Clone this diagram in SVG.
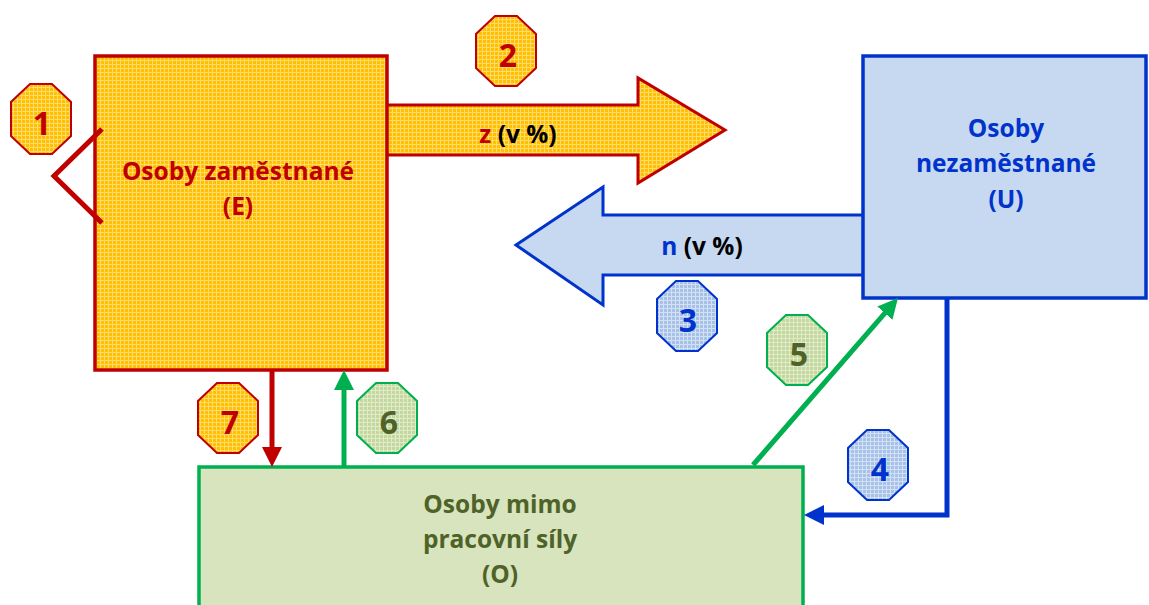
<svg xmlns="http://www.w3.org/2000/svg" width="1149" height="605" viewBox="0 0 1149 605">
<style>
text{font-family:"Open Sans","Liberation Sans",sans-serif;font-weight:bold;text-anchor:middle}
.lbl{font-size:24.5px}
.num{font-size:32px}
.red{fill:#C00000}.blue{fill:#0033CC}.olive{fill:#4F6228}.blk{fill:#000}
.rs{stroke:#C00000}.bs{stroke:#0033CC}.gs{stroke:#00B050}
</style>
<defs>
<pattern id="goldPat" width="4" height="4" patternUnits="userSpaceOnUse">
<rect width="4" height="4" fill="#FFC000"/>
<path d="M0,0.5H4M0.5,0V4" stroke="#FFDB70" stroke-width="1"/>
</pattern>
<pattern id="bluePat" width="4" height="4" patternUnits="userSpaceOnUse">
<rect width="4" height="4" fill="#A7C1E8"/>
<path d="M0,0.5H4M0.5,0V4" stroke="#D3E1F5" stroke-width="1"/>
</pattern>
<pattern id="greenPat" width="4" height="4" patternUnits="userSpaceOnUse">
<rect width="4" height="4" fill="#C4D79C"/>
<path d="M0,0.5H4M0.5,0V4" stroke="#E0EBCB" stroke-width="1"/>
</pattern>
<polygon id="oct" points="-11,-35 11,-35 30,-17 30,17 11,35 -11,35 -30,17 -30,-17"/>
<marker id="mRed" viewBox="0 0 20 20" refX="2" refY="10" markerWidth="20" markerHeight="20" markerUnits="userSpaceOnUse" orient="auto"><path d="M0,0L20,10L0,20z" fill="#C00000"/></marker>
<marker id="mGreen" viewBox="0 0 20 20" refX="2" refY="10" markerWidth="20" markerHeight="20" markerUnits="userSpaceOnUse" orient="auto"><path d="M0,0L20,10L0,20z" fill="#00B050"/></marker>
<marker id="mBlue" viewBox="0 0 20 20" refX="2" refY="10" markerWidth="20" markerHeight="20" markerUnits="userSpaceOnUse" orient="auto"><path d="M0,0L20,10L0,20z" fill="#0033CC"/></marker>
</defs>

<g id="arrow-z">
<path d="M387,105L638,105L638,78L725,130L638,183L638,155L387,155" fill="url(#goldPat)" stroke="#C00000" stroke-width="3"/>
<text class="lbl" x="518" y="143"><tspan class="red">z</tspan><tspan class="blk"> (v %)</tspan></text>
</g>
<g id="arrow-n">
<path d="M863,215L603,215L603,187L516,245L603,305L603,275L863,275" fill="#C6D9F1" stroke="#0033CC" stroke-width="3"/>
<text class="lbl" x="702" y="255"><tspan class="blue">n</tspan><tspan class="blk"> (v %)</tspan></text>
</g>

<g id="node-E">
<rect x="95" y="56" width="292" height="314" fill="url(#goldPat)" stroke="#C00000" stroke-width="3.5"/>
<text class="lbl red" x="238" y="180">Osoby zaměstnané</text>
<text class="lbl red" x="238" y="215">(E)</text>
</g>
<g id="node-U">
<rect x="863" y="56" width="283" height="242" fill="#C6D9F1" stroke="#0033CC" stroke-width="3.5"/>
<text class="lbl blue" x="1006" y="137">Osoby</text>
<text class="lbl blue" x="1006" y="172">nezaměstnané</text>
<text class="lbl blue" x="1006" y="208">(U)</text>
</g>
<g id="node-O">
<rect x="199" y="467" width="604" height="150" fill="#D7E4BD" stroke="#00B050" stroke-width="3.5"/>
<text class="lbl olive" x="500" y="513">Osoby mimo</text>
<text class="lbl olive" x="500" y="548">pracovní síly</text>
<text class="lbl olive" x="500" y="583">(O)</text>
</g>

<g id="connectors" fill="none" stroke-width="5">
<path class="rs" d="M102,129L54,176L102,223"/>
<path class="rs" d="M272,370V449" marker-end="url(#mRed)"/>
<path class="gs" d="M344,467V388" marker-end="url(#mGreen)"/>
<path class="gs" d="M753,465L886.2,311.6" marker-end="url(#mGreen)"/>
<path class="bs" d="M947,298V515H822" marker-end="url(#mBlue)"/>
</g>

<g id="badge-1"><use href="#oct" x="41" y="119" fill="url(#goldPat)" stroke="#C00000" stroke-width="2"/><text class="num red" x="42" y="135">1</text></g>
<g id="badge-2"><use href="#oct" x="506" y="51" fill="url(#goldPat)" stroke="#C00000" stroke-width="2"/><text class="num red" x="508" y="67">2</text></g>
<g id="badge-3"><use href="#oct" x="687" y="316" fill="url(#bluePat)" stroke="#0033CC" stroke-width="2"/><text class="num blue" x="688" y="332">3</text></g>
<g id="badge-4"><use href="#oct" x="878" y="465" fill="url(#bluePat)" stroke="#0033CC" stroke-width="2"/><text class="num blue" x="880" y="481">4</text></g>
<g id="badge-5"><use href="#oct" x="797" y="350" fill="url(#greenPat)" stroke="#00B050" stroke-width="2"/><text class="num olive" x="799" y="366">5</text></g>
<g id="badge-6"><use href="#oct" x="387" y="418" fill="url(#greenPat)" stroke="#00B050" stroke-width="2"/><text class="num olive" x="389" y="434">6</text></g>
<g id="badge-7"><use href="#oct" x="228" y="418" fill="url(#goldPat)" stroke="#C00000" stroke-width="2"/><text class="num red" x="230" y="434">7</text></g>
</svg>
